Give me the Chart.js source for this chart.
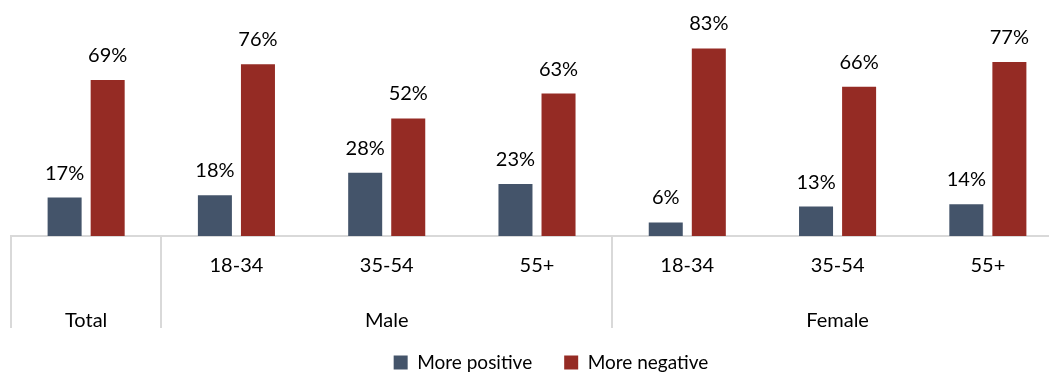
<!DOCTYPE html>
<html>
<head>
<meta charset="utf-8">
<script src="https://cdn.jsdelivr.net/npm/chart.js@4.4.1/dist/chart.umd.min.js"></script>
<style>
  html, body { margin: 0; padding: 0; background: #fff; overflow: hidden; }
  #wrap { width: 1091px; height: 374px; position: relative; }
</style>
</head>
<body>
<div id="wrap"><canvas id="chart"></canvas></div>
<script>
// categories (sub labels) and the groups they belong to
const ageLabels = ["", "18-34", "35-54", "55+", "18-34", "35-54", "55+"];
const groupNames = ["Total", "Male", "Female"];
const groupStart = [0, 1, 4];   // first category index of each group
const groupEnd = [1, 4, 7];     // one past the last index

const positive = [17, 18, 28, 23, 6, 13, 14];
const negative = [69, 76, 52, 63, 83, 66, 77];

const BLUE = "#44546A";
const RED = "#952B24";
const LINE = "#D9D9D9";
const FONT = "Lato, 'Open Sans', sans-serif";

const labelPlugin = {
  id: "labels",
  afterDatasetsDraw(chart){
    const ctx = chart.ctx;
    ctx.save();
    ctx.font = "20px " + FONT;
    ctx.fillStyle = "#000";
    ctx.textAlign = "center";
    ctx.textBaseline = "alphabetic";
    chart.data.datasets.forEach((ds, i)=>{
      chart.getDatasetMeta(i).data.forEach((bar, j)=>{
        ctx.fillText(ds.data[j] + "%", bar.x, bar.y - 18);
      });
    });
    ctx.restore();
  },
  afterDraw(chart){
    const ctx = chart.ctx;
    const x = chart.scales.x;
    const area = chart.chartArea;
    const half = (x.getPixelForValue(1) - x.getPixelForValue(0)) / 2;
    ctx.save();
    // group dividers
    ctx.strokeStyle = LINE;
    ctx.lineWidth = 2;
    groupStart.forEach((s)=>{
      const px = Math.round(x.getPixelForValue(s) - half);
      ctx.beginPath();
      ctx.moveTo(px, area.bottom);
      ctx.lineTo(px, 328);
      ctx.stroke();
    });
    // group names
    ctx.font = "20px " + FONT;
    ctx.fillStyle = "#000";
    ctx.textAlign = "center";
    groupNames.forEach((g, i)=>{
      const mid = (x.getPixelForValue(groupStart[i]) + x.getPixelForValue(groupEnd[i] - 1)) / 2;
      ctx.fillText(g, mid, 321);
    });
    ctx.restore();
  }
};

new Chart(document.getElementById("chart"), {
  type: "bar",
  data: {
    labels: ageLabels,
    datasets: [
      { label: "More positive", data: positive, backgroundColor: BLUE },
      { label: "More negative", data: negative, backgroundColor: RED }
    ]
  },
  options: {
    responsive: true,
    maintainAspectRatio: false,
    animation: false,
    devicePixelRatio: 1,
    categoryPercentage: 0.573,
    barPercentage: 0.79,
    layout: { padding: { left: 11, top: 10, right: 0, bottom: -8 } },
    plugins: {
      tooltip: { enabled: false },
      legend: {
        position: "bottom",
        labels: {
          color: "#000",
          font: { family: FONT, size: 19 },
          boxWidth: 14,
          boxHeight: 14,
          padding: 32
        }
      }
    },
    scales: {
      x: {
        grid: { display: false, drawTicks: false },
        border: { display: true, color: LINE, width: 2 },
        ticks: { color: "#000", font: { family: FONT, size: 20 }, padding: 18, maxRotation: 0, autoSkip: false },
        afterFit: (s)=>{ s.height = 85; }
      },
      y: {
        position: "right",
        min: 0,
        max: 100,
        grid: { display: false },
        border: { display: false },
        ticks: { display: false },
        afterFit: (s)=>{ s.width = 28; }
      }
    }
  },
  plugins: [labelPlugin]
});
</script>
</body>
</html>
